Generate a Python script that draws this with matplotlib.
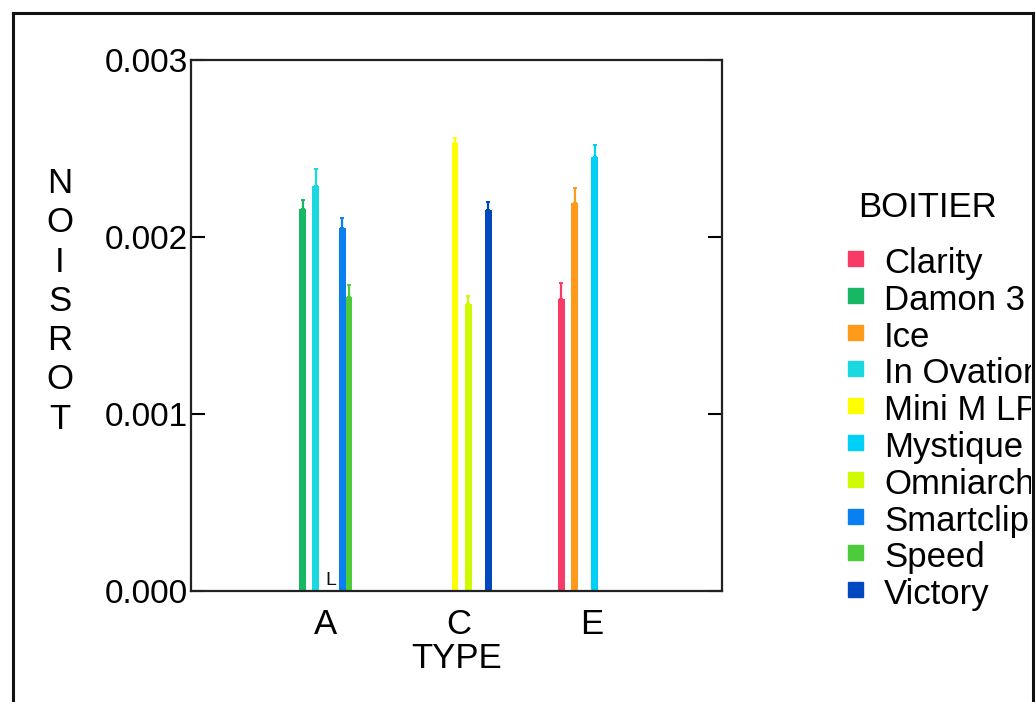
import numpy as np
import matplotlib.pyplot as plt
from matplotlib.lines import Line2D
from matplotlib.transforms import Bbox, TransformedBbox

plt.rcParams['font.family'] = ['Liberation Sans', 'DejaVu Sans']

types = ['A', 'C', 'E']
brackets = ['Clarity', 'Damon 3', 'Ice', 'In Ovation', 'Mini M LP',
            'Mystique', 'Omniarch', 'Smartclip', 'Speed', 'Victory']
colors = ['#f83a66', '#17b865', '#ff9a1a', '#1ad8e0', '#ffff00',
          '#00d0f5', '#d0fa00', '#0a80f0', '#4ccc3a', '#0048c0']

# mean torsion per type, one entry per bracket (None = not present)
torsion_A = [None, 0.00216, None, 0.00229, None, None, None, 0.00205, 0.00166, None]
torsion_C = [None, None, None, None, 0.00253, None, 0.00162, None, None, 0.00215]
torsion_E = [0.00165, None, 0.00219, None, None, 0.00245, None, None, None, None]
# upper error bars
err_A = [None, 0.00005, None, 0.000096, None, None, None, 0.000056, 0.000068, None]
err_C = [None, None, None, None, 0.00003, None, 0.000045, None, None, 0.00005]
err_E = [0.00009, None, 0.000085, None, None, 0.000068, None, None, None, None]

torsion = [torsion_A, torsion_C, torsion_E]
errors = [err_A, err_C, err_E]

fig = plt.figure(figsize=(10.36, 7.02), dpi=100)
ax = fig.add_axes([191 / 1036, 1 - 591 / 702, (722 - 191) / 1036, (591 - 60) / 702])

slot = 0.05
for t, (vals, errs) in enumerate(zip(torsion, errors)):
    x0 = t + 1
    for i, (v, e) in enumerate(zip(vals, errs)):
        if v is None:
            continue
        x = x0 + (i - 4.5) * slot
        ax.bar(x, v, width=slot, color=colors[i], edgecolor='none', zorder=2)
        ax.errorbar(x, v, yerr=[[0], [e]], fmt='none', ecolor=colors[i],
                    elinewidth=1.6, capsize=1.5, capthick=1.4, zorder=2)

ax.text(1.0, 0.00001, 'L', fontsize=14, ha='left', va='bottom', color='#111')

ax.set_xlim(-0.015, 3.985)
ax.set_ylim(0, 0.003)
ax.set_xticks([1, 2, 3])
ax.set_xticklabels(types)
ax.set_yticks([0, 0.001, 0.002, 0.003])
ax.set_yticklabels(['0.000', '0.001', '0.002', '0.003'])
ax.tick_params(axis='x', length=0, pad=12, labelsize=25)
ax.tick_params(axis='y', direction='in', length=10, width=1.5, pad=2,
               labelsize=24, left=True, right=True)
for s in ax.spines.values():
    s.set_linewidth(1.6)
    s.set_color('#222222')
ax.set_xlabel('TYPE', fontsize=25, labelpad=1)

# stacked y label
for k, ch in enumerate('NOISROT'):
    fig.text(60 / 1036, 1 - (193 + k * 39.3) / 702, ch, fontsize=25,
             ha='center', va='baseline')

# legend
clip = TransformedBbox(Bbox([[0, 0], [1031 / 1036, 1]]), fig.transFigure)
fig.text(858 / 1036, 1 - 217 / 702, 'BOITIER', fontsize=25, ha='left', va='baseline')
for i, (name, c) in enumerate(zip(brackets, colors)):
    base = 273 + i * 36.8
    fig.patches.append(plt.Rectangle((848 / 1036, 1 - (base - 7) / 702),
                                     15 / 1036, 15 / 702, color=c,
                                     transform=fig.transFigure, figure=fig))
    t = fig.text(884 / 1036, 1 - base / 702, name, fontsize=25,
                 ha='left', va='baseline')
    t.set_clip_box(clip)
    t.set_clip_on(True)

# outer frame
fx0, fx1, fy0 = 13 / 1036, 1033 / 1036, 1 - 13 / 702
for xs, ys in [([fx0, fx0], [0, fy0]), ([fx0, fx1], [fy0, fy0]), ([fx1, fx1], [fy0, 0])]:
    fig.add_artist(Line2D(xs, ys, color='#111111', linewidth=2.2,
                          transform=fig.transFigure))

fig.savefig('out.png', dpi=100)
